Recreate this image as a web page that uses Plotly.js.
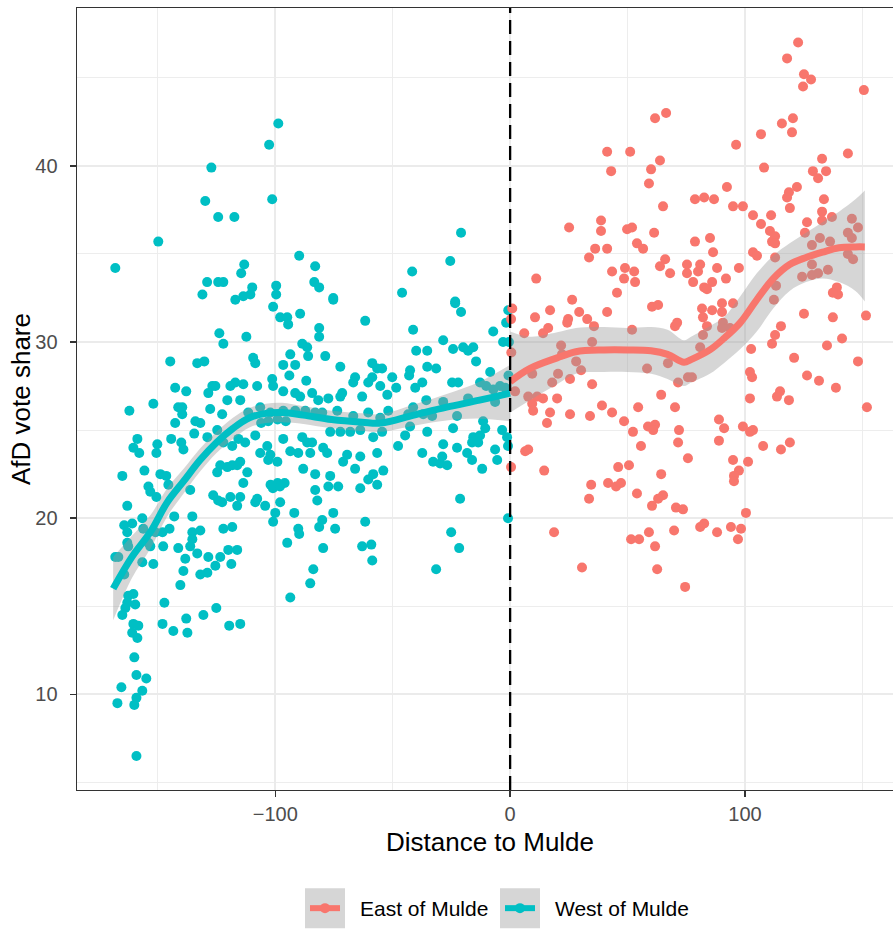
<!DOCTYPE html>
<html>
<head>
<meta charset="utf-8">
<script src="https://cdn.plot.ly/plotly-3.0.1.min.js"></script>
<style>html,body{margin:0;padding:0;background:#fff;}#chart{width:893px;height:929px;}</style>
</head>
<body>
<div id="chart"></div>
<script>
// ---- data ----
var seriesNames = ["East of Mulde", "West of Mulde"];
var seriesColors = ["#F8766D", "#00BFC4"];

// West of Mulde: [distance, AfD vote share]
var westPoints = [
[-98.7,42.4],[-102.6,41.2],[-127.2,39.9],[-129.8,38.0],[-101.3,38.1],[-124.3,37.1],[-117.4,37.1],[-149.8,35.7],
[-168.1,34.2],[-89.8,34.9],[-83.0,34.3],[-113.2,34.4],[-114.5,33.9],[-129.0,33.4],[-124.3,33.4],[-122.1,33.4],
[-109.8,33.1],[-99.6,33.2],[-99.6,32.7],[-131.0,32.7],[-83.4,33.4],[-81.3,33.1],[-75.3,32.5],[-46.0,32.8],
[-41.7,34.0],[-25.5,34.6],[-20.9,36.2],[-23.4,32.3],[-113.6,32.6],[-110.6,32.7],[-117.0,32.4],
[-123.8,30.5],[-122.1,29.9],[-144.7,28.9],[-133.2,28.8],[-130.2,28.9],[-142.6,27.4],[-137.9,27.2],[-126.8,27.5],
[-125.5,27.5],[-128.5,27.1],[-119.1,27.5],[-117.0,27.7],[-120.4,26.7],[-151.9,26.5],[-162.1,26.1],[-141.3,26.3],
[-139.6,26.3],[-139.6,25.9],[-127.7,26.2],[-122.6,25.9],[-142.6,25.4],[-134.0,25.5],[-131.9,25.4],[-134.5,24.8],
[-124.7,25.0],[-128.9,24.6],[-122.1,24.3],[-144.3,24.5],[-140.0,24.3],[-139.1,23.9],[-158.7,24.5],[-160.4,24.0],
[-157.9,23.7],[-150.2,24.2],[-150.6,23.7],[-118.3,24.1],[-115.7,24.5],
[-165.1,22.4],[-155.7,22.7],[-148.9,22.5],[-146.4,22.4],[-154.0,21.8],[-153.2,21.5],[-150.6,21.2],[-163.0,20.7],
[-145.5,21.9],[-136.2,21.6],[-143.0,20.1],[-135.3,20.1],[-156.6,20.0],[-164.3,19.6],[-160.9,19.7],[-163.0,19.2],
[-156.2,19.4],[-151.0,19.2],[-148.0,19.2],[-145.0,19.4],[-163.0,18.6],[-162.6,18.4],[-154.0,18.6],[-153.2,18.4],
[-135.3,19.2],[-131.9,19.3],[-135.3,18.8],[-136.2,18.4],[-147.7,18.4],[-141.3,18.3],[-133.2,18.0],[-138.3,17.7],
[-128.5,17.8],[-125.5,17.3],[-128.9,16.9],[-131.9,16.8],[-123.4,17.8],[-120.0,18.2],[-118.7,17.4],[-116.2,18.2],
[-168.1,17.8],[-166.8,17.8],[-156.6,17.5],[-151.9,17.4],[-139.1,17.0],[-140.4,16.2],[-164.3,16.8],[-162.6,15.6],
[-160.4,15.7],[-163.0,15.2],[-159.6,15.1],[-163.8,14.9],[-165.1,14.5],[-147.2,15.2],[-160.4,14.0],[-158.3,13.9],
[-160.9,13.5],[-158.7,13.2],[-148.0,14.0],[-143.4,13.6],[-137.9,14.3],[-137.4,13.5],[-130.6,14.5],[-125.1,14.9],
[-119.6,13.9],[-114.9,14.0],[-160.0,12.1],[-159.1,11.1],[-154.9,10.9],[-156.6,10.2],[-165.5,10.4],[-167.2,9.5],
[-159.1,9.8],[-160.0,9.4],[-159.1,6.5],[-124.7,22.6],[-123.4,23.0],[-120.4,22.9],[-118.3,23.0],[-116.2,23.0],
[-126.4,21.3],[-124.3,21.0],[-122.6,20.9],[-119.1,21.2],[-116.2,20.7],[-122.1,19.4],[-118.3,19.5],
[-100.9,32.0],[-97.9,31.4],[-94.9,31.4],[-94.5,31.0],[-89.4,31.6],[-75.3,32.4],[-61.7,31.2],[-112.3,30.3],
[-81.3,30.8],[-81.3,30.3],[-88.5,29.9],[-86.4,29.7],[-86.0,29.2],[-93.6,29.3],[-109.4,29.1],[-108.5,28.8],
[-78.7,29.2],[-96.6,28.7],[-91.5,28.7],[-72.3,28.6],[-94.0,28.1],[-101.3,27.9],[-86.8,27.8],[-66.0,28.0],
[-66.8,27.7],[-58.7,28.8],[-56.6,28.5],[-58.7,28.0],[-60.4,27.7],[-113.6,27.6],[-107.7,27.5],[-100.9,27.5],
[-96.6,27.2],[-91.5,27.1],[-89.4,26.9],[-84.3,27.1],[-81.7,26.7],[-77.4,26.8],[-72.3,26.9],[-71.5,27.1],
[-63.0,26.9],[-114.9,26.7],[-111.5,26.0],[-106.4,26.3],[-102.1,26.0],[-96.6,26.1],[-91.5,26.1],[-87.2,26.1],
[-83.0,26.0],[-80.0,26.0],[-73.6,26.1],[-66.8,25.8],[-60.4,26.0],[-106.0,25.4],[-103.0,25.5],[-99.0,25.6],
[-95.5,25.5],[-76.6,24.9],[-72.3,24.9],[-68.1,24.9],[-63.8,25.0],[-58.3,24.6],[-108.5,24.7],[-112.8,24.3],
[-103.4,24.1],[-96.6,24.5],[-88.5,24.6],[-86.4,24.3],[-84.3,24.3],[-106.4,23.7],[-102.1,23.6],[-93.6,23.8],
[-90.2,23.7],[-85.1,23.7],[-79.6,24.0],[-77.9,23.7],[-69.4,23.6],[-63.8,23.5],[-56.6,23.7],
[-114.9,23.2],[-111.9,22.6],[-113.6,22.0],[-103.0,23.3],[-99.1,23.2],[-88.1,22.8],[-83.0,22.5],[-76.6,22.4],
[-71.1,23.2],[-66.0,22.8],[-58.3,22.5],[-54.0,22.7],[-60.4,22.2],[-56.6,21.9],[-63.8,21.7],[-102.0,21.9],
[-99.0,22.0],[-96.0,22.0],[-101.0,21.7],[-98.0,21.8],[-77.4,21.8],[-73.2,21.8],[-83.0,21.6],[-82.1,21.0],
[-114.9,21.2],[-107.7,21.1],[-108.5,20.9],[-104.3,20.7],[-97.9,20.9],[-100.0,20.3],[-100.9,19.8],[-91.9,20.3],
[-80.0,19.9],[-81.3,19.5],[-75.3,20.3],[-74.5,19.4],[-90.2,19.4],[-89.8,19.1],[-61.7,19.8],[-94.9,18.6],
[-79.6,18.3],[-63.0,18.4],[-59.1,18.5],[-58.7,17.6],[-83.8,17.1],[-85.1,16.3],[-93.6,15.5],[-32.8,23.2],
[-26.8,23.0],[-29.8,23.1],[-16.2,23.3],[-5.5,23.3],[-11.9,22.8],[-21.3,21.1],[-0.9,20.0],[-25.1,19.2],
[-21.7,18.3],[-31.5,17.1],
[-23.4,32.2],[-20.9,31.7],[-41.3,30.7],[-7.2,30.6],[-3.0,30.0],[-1.7,31.1],[-28.5,30.1],[-40.0,29.5],
[-35.3,29.5],[-24.3,29.6],[-20.0,29.7],[-17.9,29.5],[-15.7,29.7],[-14.5,28.9],[-35.3,28.6],[-31.5,28.5],
[-42.6,28.4],[-43.0,28.1],[-54.5,28.5],[-8.5,28.3],[-50.2,28.0],[-37.4,27.7],[-40.4,27.4],[-24.7,27.7],
[-22.1,27.7],[-12.8,27.7],[-10.2,27.5],[-55.3,27.5],[-48.5,27.4],[-52.3,27.0],[-7.2,27.3],[-4.3,27.5],
[-2.1,27.4],[-17.9,26.8],[-35.7,26.7],[-28.5,26.6],[-6.4,26.6],[-51.9,26.1],[-41.3,26.3],[-43.4,25.9],
[-37.0,25.9],[-33.2,25.8],[-22.6,25.8],[-55.3,25.7],[-11.5,25.5],[-10.6,25.1],[-42.6,25.2],[-24.3,25.1],
[-3.4,25.0],[-35.3,24.9],[-54.5,24.9],[-44.7,24.7],[-15.7,24.6],[-12.8,24.7],[-16.2,24.3],[-13.6,24.3],
[-28.5,24.2],[-47.7,24.1],[-22.6,24.0],[-18.3,23.7],[-6.4,23.9],[-37.4,23.7],[-28.9,23.5],[-0.9,24.1],
[-1.3,24.6],[-0.8,31.8],[-0.5,30.0],[-0.7,28.1]
];

// East of Mulde: [distance, AfD vote share]
var eastPoints = [
[122.6,47.0],[117.9,46.1],[125.1,45.2],[128.1,44.9],[124.7,44.5],[150.6,44.3],[61.7,42.7],[66.4,43.0],
[115.7,42.4],[120.4,42.7],[120.0,41.9],[106.8,41.8],[96.2,41.2],[41.3,40.8],[51.1,40.8],[43.0,39.7],
[63.8,40.3],[60.0,39.8],[59.1,39.0],[108.1,39.9],[143.8,40.7],[132.8,40.4],[128.9,39.7],[134.5,39.7],
[131.1,39.3],[92.3,38.8],[122.1,38.8],[118.7,38.5],[117.9,38.2],[78.7,38.1],[82.6,38.2],[86.8,38.1],
[133.6,38.1],
[65.1,37.7],[25.1,36.5],[38.7,36.9],[38.7,36.3],[49.8,36.4],[51.9,36.5],[61.3,36.2],[54.0,35.6],
[56.6,35.3],[36.2,35.3],[33.6,34.8],[41.3,35.3],[66.0,34.7],[63.8,34.3],[68.1,33.9],[75.3,34.4],
[75.3,33.9],[48.9,34.2],[52.8,34.0],[48.5,33.6],[53.2,33.4],[43.4,34.0],[11.1,33.6],[45.5,32.8],
[26.4,32.4],[0.9,31.9],[0.4,31.3],[17.0,31.8],[29.4,31.7],[60.4,32.0],[63.0,32.1],[41.3,31.7],
[10.6,31.4],[24.7,31.3],[24.3,31.1],[32.8,31.3],[35.7,30.9],[6.0,30.5],[14.0,30.5],[16.2,30.8],
[70.2,30.9],[71.1,31.1],[51.9,30.7],[21.7,29.8],[22.1,29.3],[34.9,30.0],[0.5,29.4],[20.4,28.2],
[28.1,28.9],[30.2,28.4],[25.5,27.9],[17.9,27.7],[9.4,28.2],[34.9,27.6],[58.3,28.5],[67.2,28.8],
[71.5,27.7],[75.7,28.0],[64.3,27.0],[2.1,27.2],[7.7,26.9],[11.5,26.9],[14.0,26.8],[20.0,26.8],
[9.4,26.5],[9.8,26.1],[17.0,26.0],[25.5,25.9],[34.0,25.8],[39.1,26.4],[43.4,26.0],[48.5,25.5],
[54.5,26.3],[52.3,24.9],[55.7,24.1],[15.7,25.4],[58.7,25.2],[61.7,25.3],[60.9,25.0],[70.2,26.3],
[71.9,25.0],[71.5,24.3],[75.7,23.4],[6.4,23.8],[7.7,23.9],[0.4,22.9],[14.5,22.7],[46.0,22.9],
[50.6,23.0],[64.3,22.5],[34.5,21.9],[33.6,21.1],[41.7,22.0],[45.1,21.8],[47.2,22.0],[54.0,21.4],
[65.1,21.3],[63.0,21.1],[60.4,20.7],[70.6,20.6],[73.6,20.5],[18.7,19.2],[51.5,18.8],[54.9,18.8],
[59.1,19.2],[61.7,18.4],[69.8,19.3],[30.6,17.2],[62.6,17.1],[74.5,16.1],
[94.9,37.7],[99.1,37.7],[103.4,37.2],[111.1,37.2],[119.1,37.6],[132.8,37.4],[137.0,37.1],[132.8,36.9],
[106.8,36.7],[126.4,36.8],[125.5,36.2],[145.5,37.0],[148.1,36.5],[110.6,36.3],[112.8,36.0],[111.5,35.7],
[112.8,35.6],[128.5,35.5],[131.9,35.9],[136.2,35.7],[143.8,36.2],[145.5,35.9],[143.8,35.0],[146.0,34.7],
[85.1,35.9],[78.7,35.7],[86.4,35.1],[103.4,35.1],[105.1,34.9],[112.8,34.8],[80.9,34.4],[80.0,34.0],
[88.1,34.2],[97.4,34.2],[128.5,34.4],[131.1,33.9],[135.3,34.1],[124.3,33.7],[128.5,33.8],[77.9,33.4],
[82.6,33.1],[86.0,33.4],[91.9,33.6],[83.8,33.0],[139.1,33.1],[139.6,32.7],[137.4,32.8],[113.2,33.2],
[112.3,32.4],[90.2,32.2],[94.9,32.2],[81.7,31.9],[86.0,31.8],[90.2,31.7],[82.1,31.4],[83.8,30.9],
[90.6,31.1],[93.6,30.8],[90.2,30.8],[82.1,30.4],[125.1,31.6],[137.4,31.4],[151.5,31.5],[115.3,30.9],
[112.8,30.4],[111.5,29.9],[80.9,29.7],[102.6,29.6],[134.9,29.8],[141.3,30.2],[120.9,29.1],[148.1,28.9],
[102.1,28.3],[103.0,28.0],[126.4,28.1],[131.5,27.8],[138.7,27.4],[77.4,28.0],[114.9,27.2],[113.6,26.9],
[102.1,26.8],
[118.7,26.7],[151.9,26.3],[88.9,25.6],[91.1,25.1],[88.9,24.4],[99.1,25.2],[102.1,24.9],[103.4,25.0],
[107.7,24.1],[115.3,23.9],[119.1,24.3],[94.9,23.3],[101.3,23.2],[97.4,22.7],[95.3,22.4],[95.3,22.1],
[100.4,20.3],[80.9,19.5],[82.6,19.7],[88.1,19.2],[94.0,19.5],[98.3,19.4],[97.0,18.8]
];

// Loess fits and their confidence bands
var westFitX  = [-169, -161, -153, -146, -139, -132, -125, -118, -111, -104, -97, -88, -76, -63, -55, -41, -27, -13, 0];
var westFitY  = [16.0, 17.8, 19.25, 20.9, 22.1, 23.3, 24.3, 25.1, 25.7, 25.95, 26.0, 25.85, 25.6, 25.45, 25.4, 25.85, 26.3, 26.7, 27.1];
var westUpper = [17.8, 19.0, 20.2, 21.7, 22.8, 23.95, 24.9, 25.7, 26.25, 26.5, 26.55, 26.35, 26.1, 25.95, 25.9, 26.45, 27.05, 27.75, 28.7];
var westLower = [14.2, 16.6, 18.3, 20.1, 21.4, 22.65, 23.7, 24.5, 25.15, 25.4, 25.45, 25.35, 25.1, 24.95, 24.9, 25.25, 25.55, 25.65, 25.5];

var eastFitX  = [0, 8.5, 20, 28, 40, 50, 60, 67, 74, 77, 85, 91, 98, 105, 112, 119, 126, 133, 140, 147, 151];
var eastFitY  = [27.75, 28.5, 29.1, 29.45, 29.55, 29.55, 29.5, 29.3, 28.85, 29.0, 29.55, 30.2, 31.1, 32.4, 33.6, 34.4, 34.8, 35.1, 35.35, 35.4, 35.4];
var eastUpper = [30.6, 30.3, 30.55, 30.8, 30.85, 30.8, 30.85, 30.7, 30.1, 30.3, 30.9, 31.4, 32.6, 33.9, 34.9, 35.6, 36.2, 36.8, 37.4, 38.1, 38.6];
var eastLower = [26.0, 26.7, 27.6, 28.2, 28.3, 28.3, 28.2, 27.9, 27.5, 27.7, 28.2, 28.8, 29.6, 30.6, 31.9, 32.9, 33.4, 33.6, 33.4, 32.9, 32.3];

var xTitle = "Distance to Mulde";
var yTitle = "AfD vote share";
var cutoff = 0;

// ---- build traces ----
var FONT = "Liberation Sans, Arial, Helvetica, sans-serif";
var ribbonFill = "rgba(153,153,153,0.4)";
function col(arr, i){ return arr.map(function(p){ return p[i]; }); }

function ribbon(xs, lo, up){
  return [
    { type:"scatter", mode:"lines", x: xs, y: lo, line:{width:0, shape:"spline", color:"rgba(0,0,0,0)"},
      showlegend:false, hoverinfo:"skip" },
    { type:"scatter", mode:"lines", x: xs, y: up, fill:"tonexty", fillcolor: ribbonFill,
      line:{width:0, shape:"spline", color:"rgba(0,0,0,0)"}, showlegend:false, hoverinfo:"skip" }
  ];
}

var traces = [
  { type:"scatter", mode:"markers", x: col(westPoints,0), y: col(westPoints,1), showlegend:false,
    marker:{ color: seriesColors[1], size:10, line:{width:0} }, hoverinfo:"skip" },
  { type:"scatter", mode:"markers", x: col(eastPoints,0), y: col(eastPoints,1), showlegend:false,
    marker:{ color: seriesColors[0], size:10, line:{width:0} }, hoverinfo:"skip" }
].concat(ribbon(westFitX, westLower, westUpper)).concat([
  { type:"scatter", mode:"lines", x: westFitX, y: westFitY, line:{color: seriesColors[1], width:7, shape:"spline"},
    showlegend:false, hoverinfo:"skip" }
]).concat(ribbon(eastFitX, eastLower, eastUpper)).concat([
  { type:"scatter", mode:"lines", x: eastFitX, y: eastFitY, line:{color: seriesColors[0], width:7, shape:"spline"},
    showlegend:false, hoverinfo:"skip" },
  // legend entries
  { type:"scatter", mode:"lines+markers", x:[null], y:[null], name: seriesNames[0],
    line:{color: seriesColors[0], width:6}, marker:{color: seriesColors[0], size:10} },
  { type:"scatter", mode:"lines+markers", x:[null], y:[null], name: seriesNames[1],
    line:{color: seriesColors[1], width:6}, marker:{color: seriesColors[1], size:10} }
]);

var axisCommon = {
  showline:true, linecolor:"#333333", linewidth:1.4,
  ticks:"outside", ticklen:6, tickwidth:1.4, tickcolor:"#333333",
  tickfont:{family:FONT, size:20, color:"#4D4D4D"},
  showgrid:true, gridcolor:"#EBEBEB", gridwidth:1.8,
  zeroline:false, tickmode:"linear"
};

var layout = {
  width:893, height:929,
  margin:{l:77, r:0, t:8, b:138},
  paper_bgcolor:"#FFFFFF", plot_bgcolor:"#FFFFFF",
  font:{family:FONT, color:"#000000"},
  showlegend:true,
  legend:{orientation:"h", x:0.2794, xanchor:"left", y:-0.152, yanchor:"middle",
          font:{family:FONT, size:21, color:"#000000"}, bgcolor:"rgba(0,0,0,0)",
          itemwidth:30, entrywidth:150, entrywidthmode:"pixels", traceorder:"normal"},
  xaxis: Object.assign({}, axisCommon, {
    range:[-184.4, 163.0], tick0:0, dtick:100, mirror:true,
    minor:{dtick:50, tick0:0, showgrid:true, gridcolor:"#EBEBEB", gridwidth:0.9, ticks:""},
    title:{text:xTitle, font:{family:FONT, size:26, color:"#000000"}, standoff:8}
  }),
  yaxis: Object.assign({}, axisCommon, {
    range:[4.57, 48.96], tick0:0, dtick:10, mirror:false, ticklabelstandoff:8,
    minor:{dtick:5, tick0:0, showgrid:true, gridcolor:"#EBEBEB", gridwidth:0.9, ticks:""},
    title:{text:yTitle, font:{family:FONT, size:26, color:"#000000"}, standoff:0}
  }),
  shapes:[
    { type:"line", xref:"x", yref:"paper", x0:cutoff, x1:cutoff, y0:0, y1:1, layer:"above",
      line:{color:"#000000", width:2.3, dash:"14px,7px"} }
  ],
  hovermode:false
};

var gd = document.getElementById("chart");
Plotly.newPlot(gd, traces, layout, {staticPlot:true, displayModeBar:false}).then(function(){
  // grey key backgrounds behind the legend symbols (like ggplot's smooth keys)
  var fs = gd._fullLayout._size;
  var svgRect = gd.querySelector(".main-svg").getBoundingClientRect();
  var shapes = layout.shapes.slice();
  var half = 20;
  gd.querySelectorAll(".legend .traces").forEach(function(g){
    var p = g.querySelector(".legendlines path") || g.querySelector(".legendpoints path");
    if(!p) return;
    var r = p.getBoundingClientRect();
    var cx = (r.left + r.right)/2 - svgRect.left;
    var cy = (r.top + r.bottom)/2 - svgRect.top;
    shapes.push({ type:"rect", xref:"paper", yref:"paper",
      x0:(cx - half - fs.l)/fs.w, x1:(cx + half - fs.l)/fs.w,
      y0:1 - (cy + half - fs.t)/fs.h, y1:1 - (cy - half - fs.t)/fs.h,
      fillcolor:"#D6D6D6", line:{width:0}, layer:"above" });
  });
  return Plotly.relayout(gd, {shapes: shapes});
}).then(function(){
  // ggplot leaves a wider gap between key and label
  gd.querySelectorAll(".legend .traces text.legendtext").forEach(function(t){
    t.setAttribute("transform", "translate(15,0)");
  });
  var xt = gd.querySelector(".g-xtitle text");
  if(xt) xt.setAttribute("transform", "translate(5,0)");
  var yt = gd.querySelector(".g-ytitle text");
  if(yt){
    var tr = yt.getAttribute("transform") || "";
    yt.setAttribute("transform", "translate(3,0) " + tr);
  }
});
</script>
</body>
</html>
